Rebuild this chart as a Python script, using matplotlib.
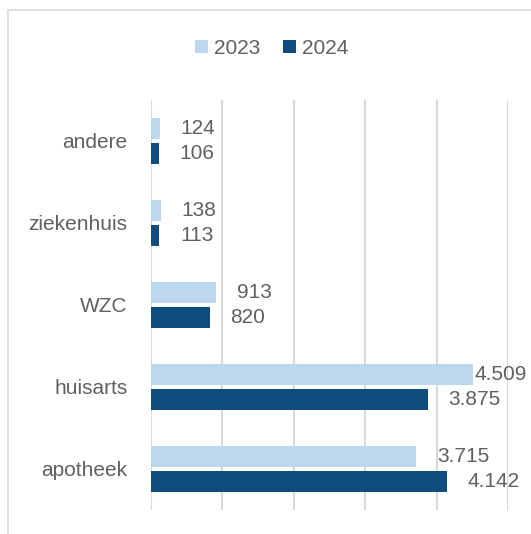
import matplotlib.pyplot as plt
import matplotlib.patches as mpatches
import numpy as np

# data (bottom to top)
categories = ["apotheek", "huisarts", "WZC", "ziekenhuis", "andere"]
values_2023 = [3715, 4509, 913, 138, 124]
values_2024 = [4142, 3875, 820, 113, 106]
labels_2023 = ["3.715", "4.509", "913", "138", "124"]
labels_2024 = ["4.142", "3.875", "820", "113", "106"]

light = "#BDD7EE"
dark = "#104C80"
grey_txt = "#606060"
grid_col = "#D9D9D9"

plt.rcParams['font.family'] = ['Liberation Sans', 'DejaVu Sans']

fig = plt.figure(figsize=(5.31, 5.34), dpi=100)

# outer chart border
border = mpatches.Rectangle((8 / 531, -0.05), 1.1, 1 - 10 / 534 + 0.05,
                            transform=fig.transFigure, fill=False,
                            edgecolor=grid_col, linewidth=1.2)
fig.patches.append(border)

ax = fig.add_axes([151 / 531, 1 - 510 / 534, 357 / 531, 410 / 534])

y = np.arange(len(categories))
h = 0.245
off = 0.152
b1 = ax.barh(y + off, values_2023, height=h, color=light, label="2023", zorder=3)
b2 = ax.barh(y - off, values_2024, height=h, color=dark, label="2024", zorder=3)

# data labels, the largest one is pushed against the bar (no room left)
vmax = max(values_2023 + values_2024)
for bars, vals, labs in [(b1, values_2023, labels_2023), (b2, values_2024, labels_2024)]:
    for bar, v, lab in zip(bars, vals, labs):
        pad = 1 if v == vmax else 15
        ax.annotate(lab, (v, bar.get_y() + bar.get_height() / 2),
                    xytext=(pad, 0), textcoords="offset points",
                    ha="left", va="center", fontsize=15, color=grey_txt)

ax.set_xlim(0, 5000)
ax.set_ylim(-0.5, 4.5)
ax.set_xticks(np.arange(0, 5001, 1000))
ax.set_xticklabels([])
ax.tick_params(axis="x", length=0)
ax.tick_params(axis="y", length=0, pad=17, labelsize=15, labelcolor=grey_txt)
ax.set_yticks(y)
ax.set_yticklabels(categories)
ax.grid(axis="x", color=grid_col, linewidth=1.5, zorder=0)
for s in ax.spines.values():
    s.set_visible(False)

fig.legend(handles=[b1, b2], labels=["2023", "2024"], loc="center",
           bbox_to_anchor=(272 / 531, 1 - 48 / 534), ncol=2, frameon=False,
           fontsize=15, labelcolor=grey_txt, handlelength=0.6, handleheight=0.6,
           handletextpad=0.3, columnspacing=1.1)

fig.savefig("out.png", dpi=100)
